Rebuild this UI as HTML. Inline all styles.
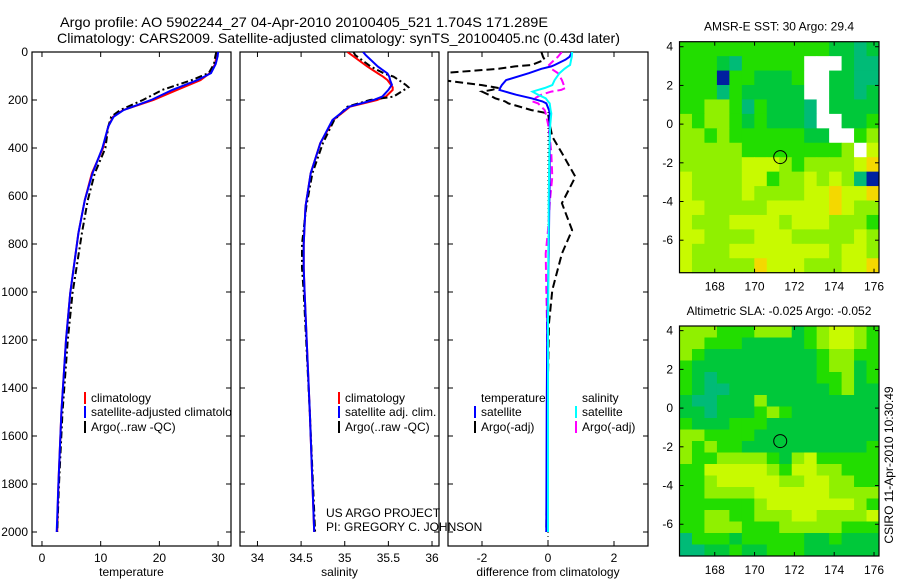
<!DOCTYPE html>
<html><head><meta charset="utf-8"><style>
html,body{margin:0;padding:0;background:#fff;}
svg{display:block;font-family:"Liberation Sans",sans-serif;}
</style></head><body>
<svg id="chart" width="900" height="580" viewBox="0 0 900 580">
<defs><clipPath id="p1clip"><rect x="32" y="52" width="199" height="494"/></clipPath></defs>
<text x="60" y="27" font-size="14" textLength="488" lengthAdjust="spacingAndGlyphs">Argo profile: AO 5902244_27 04-Apr-2010 20100405_521 1.704S 171.289E</text>
<text x="57" y="43" font-size="14" textLength="563" lengthAdjust="spacingAndGlyphs">Climatology: CARS2009. Satellite-adjusted climatology: synTS_20100405.nc (0.43d later)</text>
</svg>
<script>
// ---------- data ----------
const depthTicks=[0,200,400,600,800,1000,1200,1400,1600,1800,2000];
const tempTicks=[0,10,20,30];
const salTicks=[34,34.5,35,35.5,36];
const diffTicks=[-2,0,2];
const tempClimDepth=[0,20,50,88,117,158,200,242,270,310,400,505,617,755,1006,1200,1500,1800,2000];
const tempClim=[29.8,29.7,29.5,28.6,27,23,19,13.8,12.1,11.3,10.4,8.5,7.3,6.2,4.8,4.1,3.3,2.8,2.6];
const tempSat=[30.0,29.9,29.6,28.8,26.5,22.2,18.6,13.9,12.2,11.3,10.3,8.6,7.3,6.2,4.8,4.1,3.3,2.8,2.5];
const tempArgo=[29.7,29.5,29.3,28.4,25.5,20.5,17.2,13.3,11.8,11.3,10.8,9.0,7.8,6.8,5.2,4.4,3.5,2.9,2.6];
const salDepth=[0,13,61,89,103,117,137,147,158,186,200,228,283,380,505,644,800,900,1000,1500,2000];
const salClim=[35.03,35.08,35.26,35.38,35.44,35.49,35.53,35.55,35.55,35.47,35.37,35.06,34.87,34.72,34.61,34.55,34.53,34.53,34.54,34.6,34.65];
const salSat=[35.21,35.24,35.38,35.49,35.51,35.52,35.54,35.52,35.5,35.43,35.33,35.05,34.86,34.72,34.61,34.55,34.53,34.53,34.54,34.6,34.65];
const salArgo=[35.1,35.12,35.3,35.45,35.56,35.62,35.7,35.73,35.68,35.56,35.29,35.03,34.88,34.75,34.63,34.56,34.51,34.51,34.53,34.6,34.66];
const diffDepth=[0,20,32,54,60,70,88,117,138,150,158,165,178,193,206,214,242,256,300,353,421,520,630,742,840,992,1130,1500,2000];
const diffTempSat=[0.73,0.65,0.53,0.2,0.1,-0.2,-0.57,-1.27,-1.4,-1.45,-1.47,-1.3,-0.97,-0.5,-0.17,-0.05,0.03,0.05,0.05,0.05,0.05,0.05,0.04,0.03,0.02,0.0,-0.02,-0.04,-0.05];
const diffSalSat=[0.73,0.72,0.7,0.67,0.6,0.5,0.35,0.2,0.13,-0.1,-0.3,-0.47,-0.3,-0.07,0.0,0.05,0.08,0.1,0.07,0.05,0.04,0.03,0.02,0.02,0.01,0.01,0.0,0.0,0.0];
const diffTempArgo=[-0.2,-0.15,-0.1,-0.5,-1.0,-1.5,-3.2,-3.2,-2.0,-1.5,-1.7,-2.0,-1.8,-1.6,-1.3,-1.2,-0.5,0.0,0.05,0.13,0.42,0.83,0.42,0.73,0.42,0.13,0.03,-0.02,-0.05];
const diffSalArgo=[0.42,0.3,0.2,0.03,0.05,0.1,0.3,0.42,0.48,0.53,0.4,0.1,-0.2,-0.4,-0.47,-0.3,-0.1,-0.07,0.0,0.05,0.1,0.13,0.05,0.0,-0.07,-0.05,-0.03,0.0,0.0];
const lonTicks=[168,170,172,174,176];
const latTicks=[4,2,0,-2,-4,-6];
const argoLon=171.289, argoLat=-1.704;
const sstGrid=[
"ggggggggggggGGtG","gggGtgggggwwwGtt","gggbggGGGgwwGGtt","gggtgGGGGGwwGGtG",
"ggllgtgGGGtwGGGG","lgllgGgGGGtwwGGg","llglggggggGGwwgl","lllllgggggggglwy",
"lllllyyylgllllyo","yllllyygllylyltb","yllllyllllyyoyyo","yylllllyyyyyoyll",
"ylllyyyylyyylllg","yyllllyyylllllyl","ylllyyyyyyyylyyl","yllllloyyylllyyo"];
const slaGrid=[
"lllggglllGglyylg","llgggGGGGGglyylg","lgGGGGGGGGGgllgg","gGGGGGGGGGGgllGg",
"gGtGGGGGGGGgglGg","gGttGGGGGGGGglGG","GttGGGlGGGGGGGGG","GGtGGGglgGGGGGGG",
"gGGGgggGGGGGGGGG","llggggGGGGGGGGGG","lglggGGGGGGGGGGg","lggllllgGlyggggg",
"ggyyyyylgyyllggg","gglyyyyyllyyllgg","ggllllyyyyyyllll","gggggglyyyyyyylg",
"ggllgglllyylllly","gglllggglllllggg","tgggGgggggGGgGGG","ttGGgGGgggGGGGGG"];
// ---------- drawing ----------
const NS="http://www.w3.org/2000/svg";
const svg=document.getElementById('chart');
function mk(tag,attrs,parent){const e=document.createElementNS(NS,tag);for(const k in attrs)e.setAttribute(k,attrs[k]);(parent||svg).appendChild(e);return e;}
const yTop=52,yBot=546;
const yD=d=>yTop+d*0.24;
const panels=[
 {x0:32,x1:231,v0:-1.7,v1:32.2,ticks:tempTicks,label:'temperature',name:'temperature-panel'},
 {x0:240,x1:439,v0:33.8,v1:36.08,ticks:salTicks,label:'salinity',name:'salinity-panel'},
 {x0:448,x1:648,v0:-3.03,v1:3.03,ticks:diffTicks,label:'difference from climatology',name:'difference-panel'}];
panels.forEach((p,i)=>{p.sx=v=>p.x0+(v-p.v0)/(p.v1-p.v0)*(p.x1-p.x0);});
panels.forEach((p,i)=>{
 const g=mk('g',{});
 
 
 const r=mk('rect',{x:p.x0,y:yTop,width:p.x1-p.x0,height:yBot-yTop,fill:'none',stroke:'#000','stroke-width':1.2},g);
 
 
 p.ticks.forEach(t=>{const x=p.sx(t);
  mk('line',{x1:x,x2:x,y1:yBot,y2:yBot-5,stroke:'#000'},g);
  mk('line',{x1:x,x2:x,y1:yTop,y2:yTop+5,stroke:'#000'},g);
  const tx=mk('text',{x:x,y:yBot+16,'font-size':12,'text-anchor':'middle'},g);tx.textContent=t;
  
  
 });
 depthTicks.forEach(d=>{const y=yD(d);
  mk('line',{x1:p.x0,x2:p.x0+5,y1:y,y2:y,stroke:'#000'},g);
  mk('line',{x1:p.x1,x2:p.x1-5,y1:y,y2:y,stroke:'#000'},g);
  if(i===0){const tx=mk('text',{x:28,y:y+4,'font-size':12,'text-anchor':'end'},g);tx.textContent=d;
   
   }
 });
 const lb=mk('text',{x:(p.x0+p.x1)/2,y:576,'font-size':12,'text-anchor':'middle'},g);lb.textContent=p.label;
 
 
});
function line(p,depths,vals,color,dash,w,name){
 const pts=depths.map((d,k)=>p.sx(vals[k]).toFixed(1)+','+yD(d).toFixed(1)).join(' ');
 const cp=mk('clipPath',{id:'cp'+name});mk('rect',{x:p.x0,y:yTop,width:p.x1-p.x0,height:yBot-yTop},cp);
 const l=mk('polyline',{points:pts,fill:'none',stroke:color,'stroke-width':w||2,'stroke-dasharray':dash||'none','clip-path':'url(#cp'+name+')'});
 
 
}
const P=panels;
mk('line',{x1:P[2].sx(0),x2:P[2].sx(0),y1:yD(250),y2:yD(2060),stroke:'#000','stroke-dasharray':'1,3'});
line(P[0],tempClimDepth,tempClim,'#f00',null,2,'temp-climatology-line');
line(P[0],tempClimDepth,tempArgo,'#000','7,3,2,3',2,'temp-argo-line');
line(P[0],tempClimDepth,tempSat,'#00f',null,2,'temp-satellite-line');
line(P[1],salDepth,salClim,'#f00',null,2,'sal-climatology-line');
line(P[1],salDepth,salArgo,'#000','7,3,2,3',2,'sal-argo-line');
line(P[1],salDepth,salSat,'#00f',null,2,'sal-satellite-line');
line(P[2],diffDepth,diffTempArgo,'#000','8,4',2,'diff-temp-argo-line');
line(P[2],diffDepth,diffSalArgo,'#f0f','8,4',2,'diff-sal-argo-line');
line(P[2],diffDepth,diffTempSat,'#00f',null,2,'diff-temp-satellite-line');
line(P[2],diffDepth,diffSalSat,'#0ff',null,2,'diff-sal-satellite-line');
// legends
function legend(x,y,color,text,name,clip){
 const g=mk('g',clip?{'clip-path':'url(#'+clip+')'}:{});
 
 
 if(color)mk('rect',{x:x-7,y:y-10,width:2,height:12,fill:color},g);
 const t=mk('text',{x:x,y:y,'font-size':12},g);t.textContent=text;
}
legend(91,402,'#f00','climatology','legend-climatology','p1clip');
legend(91,416,'#00f','satellite-adjusted climatology','legend-satellite-adjusted','p1clip');
legend(91,431,'#000','Argo(..raw -QC)','legend-argo','p1clip');
legend(345,402,'#f00','climatology','legend-sal-climatology');
legend(345,416,'#00f','satellite adj. clim.','legend-sal-satellite');
legend(345,431,'#000','Argo(..raw -QC)','legend-sal-argo');
legend(481,402,null,'temperature','legend-temperature-header');
legend(481,416,'#00f','satellite','legend-temp-satellite');
legend(481,431,'#000','Argo(-adj)','legend-temp-argo');
legend(582,402,null,'salinity','legend-salinity-header');
legend(582,416,'#0ff','satellite','legend-sal-satellite-diff');
legend(582,431,'#f0f','Argo(-adj)','legend-sal-argo-diff');
legend(326,517,null,'US ARGO PROJECT','credit-project');
legend(326,531,null,'PI: GREGORY C. JOHNSON','credit-pi');
// maps
const pal={g:'#22dd00',G:'#00c83a',t:'#00bb77',l:'#90f000',y:'#c8fa00',o:'#f4d800',w:'#ffffff',b:'#0020a0',c:'#00c8f0'};
function map(y0,y1,latTop,latBot,grid,title,name){
 const x0=679.5,x1=879,lonL=166.23,lonR=176.25;
 const sx=v=>x0+(v-lonL)/(lonR-lonL)*(x1-x0);
 const sy=v=>y0+(latTop-v)/(latTop-latBot)*(y1-y0);
 const g=mk('g',{});
 
 
 const rows=grid.length,cols=grid[0].length;
 const cw=(x1-x0)/cols,rh=(y1-y0)/rows;
 grid.forEach((row,r)=>{for(let c=0;c<cols;c++){
  const cell=mk('rect',{x:x0+c*cw,y:y0+r*rh,width:cw+0.5,height:rh+0.5,fill:pal[row[c]]},g);
  
  
 }});
 mk('rect',{x:x0,y:y0,width:x1-x0,height:y1-y0,fill:'none',stroke:'#000','stroke-width':1.2},g);
 lonTicks.forEach(v=>{const x=sx(v);
  mk('line',{x1:x,x2:x,y1:y0,y2:y0+4,stroke:'#000'},g);mk('line',{x1:x,x2:x,y1:y1,y2:y1-4,stroke:'#000'},g);
  const t=mk('text',{x:x,y:y1+18,'font-size':12,'text-anchor':'middle'},g);t.textContent=v;
  
  });
 latTicks.forEach(v=>{const y=sy(v);
  mk('line',{x1:x0,x2:x0+4,y1:y,y2:y,stroke:'#000'},g);mk('line',{x1:x1,x2:x1-4,y1:y,y2:y,stroke:'#000'},g);
  const t=mk('text',{x:673,y:y+4,'font-size':12,'text-anchor':'end'},g);t.textContent=v;
  
  });
 const c=mk('circle',{cx:sx(argoLon),cy:sy(argoLat),r:6.5,fill:'none',stroke:'#000','stroke-width':1},g);
 
 
 const tt=mk('text',{x:779,y:y0-11,'font-size':12,'text-anchor':'middle'},g);tt.textContent=title;
 
 
}
map(41.7,272.7,4.26,-7.68,sstGrid,'AMSR-E SST: 30 Argo: 29.4','sst-map');
map(326,556,4.24,-7.64,slaGrid,'Altimetric SLA: -0.025 Argo: -0.052','sla-map');
const st=mk('text',{x:0,y:0,'font-size':12,'text-anchor':'middle',transform:'translate(893,465) rotate(-90)'});
st.textContent='CSIRO 11-Apr-2010 10:30:49';


</script>
</body></html>
